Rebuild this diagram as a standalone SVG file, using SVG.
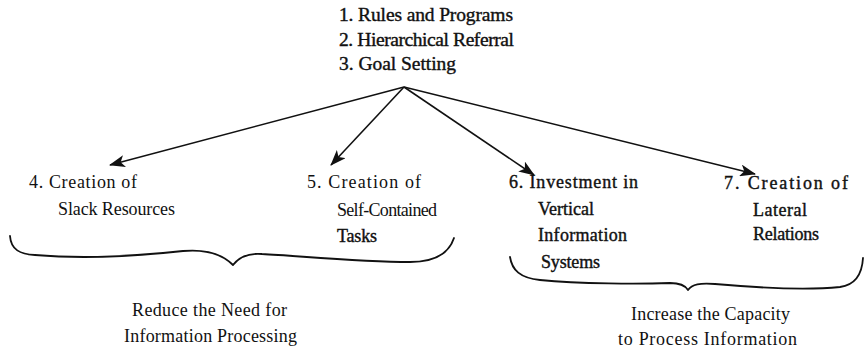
<svg xmlns="http://www.w3.org/2000/svg" width="864" height="352" viewBox="0 0 864 352">
<style>
text{font-family:"Liberation Serif","Times New Roman",serif;fill:#111}
.top{font-size:19.5px;stroke:#111;stroke-width:0.4}
.n{font-size:18px}
.nb{font-size:18px;stroke:#111;stroke-width:0.4}
.lbl{font-size:18px}
.ln{fill:none;stroke:#111;stroke-width:1.6}
.br{fill:none;stroke:#111;stroke-width:1.8;stroke-linecap:round;stroke-linejoin:round}
</style>
<defs>
<marker id="ah" markerUnits="userSpaceOnUse" markerWidth="16" markerHeight="12" viewBox="0 0 16 12" refX="15" refY="6" orient="auto">
<path d="M0,0 L16,6 L0,12 L4,6 z" fill="#111"/>
</marker>
</defs>
<g id="source">
<text class="top" x="339" y="21" textLength="174" lengthAdjust="spacing">1.  Rules and Programs</text>
<text class="top" x="339" y="46" textLength="175" lengthAdjust="spacing">2.  Hierarchical Referral</text>
<text class="top" x="339" y="70" textLength="117" lengthAdjust="spacing">3.  Goal Setting</text>
</g>
<g id="connectors">
<line class="ln" x1="404" y1="87" x2="110" y2="165" marker-end="url(#ah)"/>
<line class="ln" x1="404" y1="87" x2="331" y2="165" marker-end="url(#ah)"/>
<line class="ln" x1="404" y1="87" x2="534" y2="175" marker-end="url(#ah)"/>
<line class="ln" x1="404" y1="87" x2="755" y2="174" marker-end="url(#ah)"/>
</g>
<g id="node4">
<text class="n" x="29" y="188" textLength="108" lengthAdjust="spacing">4.  Creation of</text>
<text class="n" x="58" y="215" textLength="117" lengthAdjust="spacing">Slack Resources</text>
</g>
<g id="node5">
<text class="n" x="307" y="188" textLength="114" lengthAdjust="spacing">5.  Creation of</text>
<text class="n" x="337" y="216" textLength="100" lengthAdjust="spacing">Self-Contained</text>
<text class="nb" x="337" y="242" textLength="40" lengthAdjust="spacing">Tasks</text>
</g>
<g id="node6">
<text class="nb" x="509" y="188" textLength="129" lengthAdjust="spacing">6.  Investment in</text>
<text class="nb" x="538" y="215" textLength="56" lengthAdjust="spacing">Vertical</text>
<text class="nb" x="538" y="241" textLength="89" lengthAdjust="spacing">Information</text>
<text class="nb" x="541" y="268" textLength="59" lengthAdjust="spacing">Systems</text>
</g>
<g id="node7">
<text class="nb" x="724" y="189" textLength="124" lengthAdjust="spacing">7.  Creation of</text>
<text class="nb" x="753" y="216" textLength="54" lengthAdjust="spacing">Lateral</text>
<text class="nb" x="753" y="240" textLength="66" lengthAdjust="spacing">Relations</text>
</g>
<g id="brace-reduce">
<path class="br" d="M10 236 C11 250 20 254 35 255 C70 258 120 258 183 251 C205 249 222 254 233 265 C240 256 250 253 262 254 C300 256 360 262 410 262 C440 262 450 250 454 238"/>
<text class="lbl" x="132" y="316" textLength="155" lengthAdjust="spacing">Reduce the Need for</text>
<text class="lbl" x="124" y="342" textLength="173" lengthAdjust="spacing">Information Processing</text>
</g>
<g id="brace-increase">
<path class="br" d="M510 257 C512 270 520 278 540 280 C580 284 640 284 670 283 C680 283 685 285 688 290 C692 284 700 283 715 284 C760 288 810 290 840 287 C855 285 862 275 863 258"/>
<text class="lbl" x="631" y="320" textLength="159" lengthAdjust="spacing">Increase the Capacity</text>
<text class="lbl" x="618" y="345" textLength="179" lengthAdjust="spacing">to Process Information</text>
</g>
</svg>
